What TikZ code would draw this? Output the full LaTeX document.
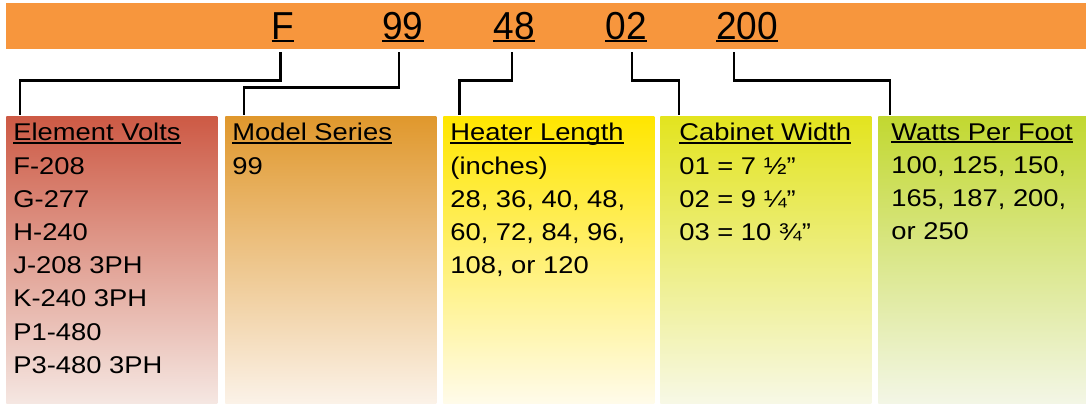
\documentclass[tikz,border=0pt]{standalone}
\usepackage{fontspec}
\setmainfont{Liberation Sans}[FakeStretch=1.13]
\newfontfamily\codefont{Liberation Sans}[FakeStretch=0.95]
\usepackage{tikz}
\usetikzlibrary{calc}
\definecolor{barorange}{HTML}{F7963D}
\definecolor{voltstop}{HTML}{CD5A45}
\definecolor{voltsbot}{HTML}{F5E7E2}
\definecolor{seriestop}{HTML}{E0982D}
\definecolor{seriesbot}{HTML}{FBF2E8}
\definecolor{lengthtop}{HTML}{FFE600}
\definecolor{lengthbot}{HTML}{FFFBEA}
\definecolor{widthtop}{HTML}{E3E41F}
\definecolor{widthbot}{HTML}{F7F8E6}
\definecolor{wattstop}{HTML}{C2D831}
\definecolor{wattsbot}{HTML}{F3F6E6}
% underline at a fixed depth below the baseline
\newcommand{\undl}[2][1.3pt]{\setbox0\hbox{#2}\rlap{\rule[-#1]{\wd0}{0.6pt}}\box0}

\begin{document}
\begin{tikzpicture}[x=0.5pt, y=-0.5pt,
    bar/.style={fill=barorange, inner sep=0pt, minimum width=540pt,
                minimum height=22.75pt, anchor=north west},
    code/.style={anchor=base, inner sep=0pt, font=\codefont\fontsize{19.5}{22}\selectfont},
    box/.style={inner sep=0pt, minimum width=105.5pt, minimum height=143.25pt,
                anchor=north west},
    txt/.style={anchor=north west, inner sep=0pt, align=left,
                font=\fontsize{12.1}{16.6}\selectfont,
                execute at begin node=\strut},
    conn/.style={line width=1.4pt, line join=miter}]

  \useasboundingbox (0,0) rectangle (1086,404);

  % code bar
  \node[bar] (bar) at (6,3) {};
  \node[code] (cF)   at (283,39) {\undl{F}};
  \node[code] (c99)  at (403,39) {\undl{99}};
  \node[code] (c48)  at (514,39) {\undl{48}};
  \node[code] (c02)  at (626,39) {\undl{02}};
  \node[code] (c200) at (747,39) {\undl{200}};

  % shaded boxes
  \node[box, top color=voltstop, bottom color=voltsbot]   (volts)  at (6,116.5) {};
  \node[box, top color=seriestop, bottom color=seriesbot] (series) at (225,116.5) {};
  \node[box, top color=lengthtop, bottom color=lengthbot] (length) at (443,116.5) {};
  \node[box, top color=widthtop, bottom color=widthbot]   (width)  at (660,116.5) {};
  \node[box, top color=wattstop, bottom color=wattsbot, minimum width=104pt] (watts) at (878,116.5) {};

  % first baseline lies about 27px below the box top
  \node[txt] (voltsTxt) at ($(volts.north west)+(7,6.5)$)
    {\undl{Element Volts}\\F-208\\G-277\\H-240\\J-208 3PH\\K-240 3PH\\P1-480\\P3-480 3PH};
  \node[txt] (seriesTxt) at ($(series.north west)+(7,6.5)$)
    {\undl{Model Series}\\99};
  \node[txt] (lengthTxt) at ($(length.north west)+(7,6.5)$)
    {\undl{Heater Length}\\(inches)\\28, 36, 40, 48,\\60, 72, 84, 96,\\108, or 120};
  \node[txt] (widthTxt) at ($(width.north west)+(19,6.5)$)
    {\undl{Cabinet Width}\\01 = 7 ½”\\02 = 9 ¼”\\03 = 10 ¾”};
  \node[txt] (wattsTxt) at ($(watts.north west)+(13,6.5)$)
    {\undl{Watts Per Foot}\\100, 125, 150,\\165, 187, 200,\\or 250};

  % connectors from code to box
  \foreach \c/\b/\dt/\db/\my in {cF/volts/-2.5/14/80.7, c99/series/-4/19/87.6,
      c48/length/-2/16.5/80.7, c02/width/6/19/80.7, c200/watts/-13/12/80.7}
    \draw[conn] ($(\c.base)+(\dt,13)$) coordinate (s)
      -- (s |- 0,\my) -| ($(\b.north west)+(\db,-1.5)$);
\end{tikzpicture}
\end{document}
